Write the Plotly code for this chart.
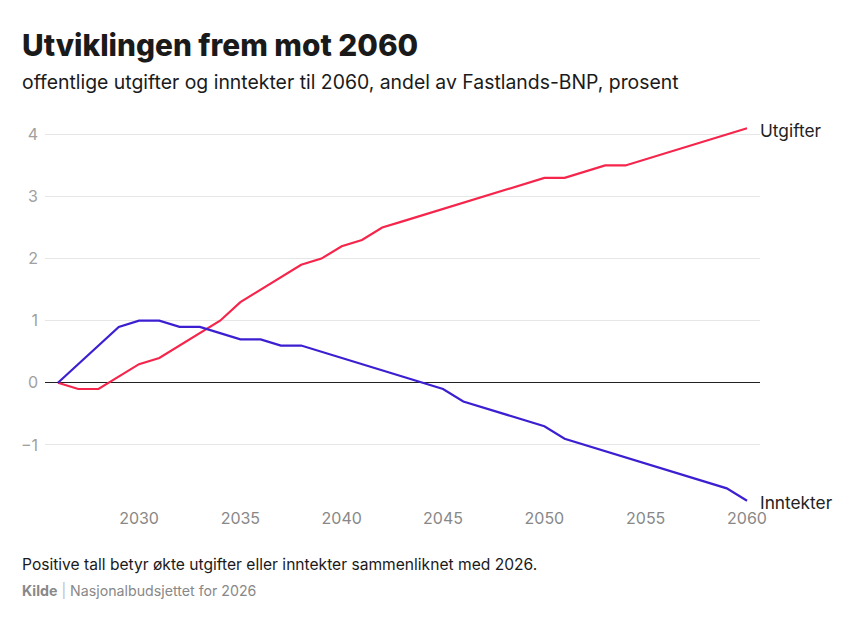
import plotly.graph_objects as go

years = list(range(2026, 2061))
utgifter = [0, -0.1, -0.1, 0.1, 0.3, 0.4, 0.6, 0.8, 1.0, 1.3,
            1.5, 1.7, 1.9, 2.0, 2.2, 2.3, 2.5, 2.6, 2.7, 2.8,
            2.9, 3.0, 3.1, 3.2, 3.3, 3.3, 3.4, 3.5, 3.5, 3.6,
            3.7, 3.8, 3.9, 4.0, 4.1]
inntekter = [0, 0.3, 0.6, 0.9, 1.0, 1.0, 0.9, 0.9, 0.8, 0.7,
             0.7, 0.6, 0.6, 0.5, 0.4, 0.3, 0.2, 0.1, 0.0, -0.1,
             -0.3, -0.4, -0.5, -0.6, -0.7, -0.9, -1.0, -1.1, -1.2, -1.3,
             -1.4, -1.5, -1.6, -1.7, -1.9]
x_ticks = [2030, 2035, 2040, 2045, 2050, 2055, 2060]
y_ticks = [-1, 0, 1, 2, 3, 4]
y_ticktext = ["\u22121", "0", "1", "2", "3", "4"]

RED = "#f5254c"
BLUE = "#3b1fd1"
FONT = "Inter"

ML, MT, PW, PH = 37, 113.5, 715, 386
W, H = 850, 629

fig = go.Figure()
fig.add_trace(go.Scatter(x=years, y=utgifter, mode="lines", name="Utgifter",
                         line=dict(color=RED, width=2.2), hoverinfo="skip"))
fig.add_trace(go.Scatter(x=years, y=inntekter, mode="lines", name="Inntekter",
                         line=dict(color=BLUE, width=2.2), hoverinfo="skip"))

for name, vals in [("Utgifter", utgifter), ("Inntekter", inntekter)]:
    fig.add_annotation(x=years[-1], y=vals[-1], xref="x", yref="y", text=name,
                       showarrow=False, xanchor="left", xshift=11, yshift=-2,
                       yanchor="middle",
                       font=dict(family=FONT, size=17.3, color="#222"))

fig.update_layout(
    width=W, height=H,
    paper_bgcolor="white", plot_bgcolor="white",
    margin=dict(l=ML, r=W - ML - PW, t=MT, b=H - MT - PH),
    showlegend=False,
    font=dict(family=FONT),
)
fig.update_xaxes(range=[2025.36, 2060.64], tickvals=x_ticks, showgrid=False,
                 zeroline=False, showline=False, ticks="",
                 tickfont=dict(family=FONT, size=16, color="#888"))
fig.update_yaxes(range=[-2, 4.2], tickvals=y_ticks, ticktext=y_ticktext,
                 showgrid=True, gridcolor="#e6e6e6", gridwidth=1,
                 zeroline=True, zerolinecolor="#222", zerolinewidth=1,
                 showline=False, ticks="", ticklabelstandoff=6,
                 tickfont=dict(family=FONT, size=16, color="#a0a0a0"))

texts = [
    (12, 36.5, "Utviklingen frem mot 2060", 29.8, "#1a1a1a", 800),
    (12, 73.5, "offentlige utgifter og inntekter til 2060, andel av Fastlands-BNP, prosent", 19.4, "#1a1a1a", 400),
    (12, 557.5, "Positive tall betyr økte utgifter eller inntekter sammenliknet med 2026.", 15.6, "#1a1a1a", 400),
    (12, 583.5, "<b>Kilde</b> <span style='color:#bbb'>|</span> Nasjonalbudsjettet for 2026", 14.2, "#888", 400),
]
for px, py, t, sz, col, wt in texts:
    fig.add_annotation(x=(px - ML) / PW, y=1 - (py - MT) / PH,
                       xref="paper", yref="paper", text=t, showarrow=False,
                       xanchor="left", yanchor="middle",
                       font=dict(family=FONT, size=sz, color=col, weight=wt))

fig.write_html("out.html")
